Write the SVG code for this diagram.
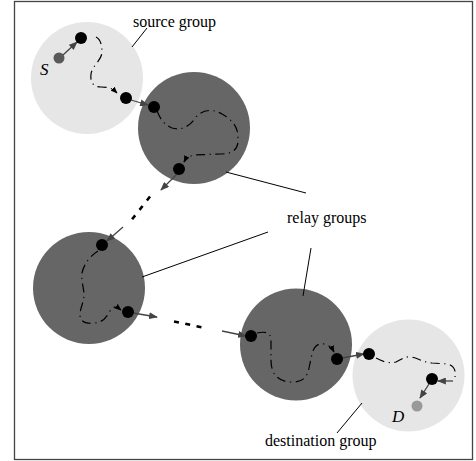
<svg xmlns="http://www.w3.org/2000/svg" width="476" height="461" viewBox="0 0 476 461">
<style>
.light{fill:#e6e6e6}
.dark{fill:#666666}
.node{fill:#000}
.path{fill:none;stroke:#000;stroke-width:1.2;stroke-dasharray:9 4.5 1.2 4.5}
.arrow{fill:none;stroke:#444;stroke-width:1.3}
.dots{fill:none;stroke:#000;stroke-width:2.6}
.leader{fill:none;stroke:#000;stroke-width:1}
.lbl{font-family:"Liberation Serif","Times New Roman",serif;font-size:16px;fill:#000}
.it{font-family:"Liberation Serif","Times New Roman",serif;font-size:17px;font-style:italic;fill:#000}
</style>
<defs>
<marker id="ah" viewBox="0 0 10 8" refX="9" refY="4" markerWidth="9" markerHeight="7" orient="auto" markerUnits="userSpaceOnUse">
<path d="M0,0 L10,4 L0,8 Z" fill="#444"/>
</marker>
<marker id="sh" viewBox="0 0 10 8" refX="9" refY="4" markerWidth="7" markerHeight="6" orient="auto" markerUnits="userSpaceOnUse">
<path d="M0,0 L10,4 L0,8 Z" fill="#000"/>
</marker>
</defs>
<rect x="14.5" y="1.5" width="458" height="458" fill="#fff" stroke="#444" stroke-width="1.3"/>

<g id="source-group"><circle class="light" cx="87" cy="78" r="56"/></g>
<g id="relay-group-1"><circle class="dark" cx="194" cy="128" r="56"/></g>
<g id="relay-group-2"><circle class="dark" cx="89" cy="288" r="56"/></g>
<g id="relay-group-3"><circle class="dark" cx="296" cy="344.5" r="56"/></g>
<g id="destination-group"><circle class="light" cx="408.5" cy="375.5" r="56"/></g>

<g id="connectors">
<path class="path" d="M96 37 C100 39 102 44 102 52 C102 60 92 66 91 74 C90 82 93 87 101 87 C108 87 112 88 117 93" marker-end="url(#sh)"/>
<path class="path" d="M157 111 C160 118 163 124 172 128 C182 131 190 126 196 117 C202 110 212 108 222 114 C232 120 238 126 238 138 C239 150 232 154 220 154 L195 155 C189 156 186 158 184 162" marker-end="url(#sh)"/>
<path class="path" d="M98 251 C90 256 84 264 82 273 C81 281 84 288 84 295 C84 302 80 308 80 315 C80 322 86 324 95 323 C103 322 106 318 110 311 C113 306 116 306 121 310" marker-end="url(#sh)"/>
<path class="path" d="M257 333 C266 331 271 333 271 340 L271 360 C271 372 276 381 290 382 C302 383 307 378 309 368 L312 354 C314 346 318 343 324 344 C329 345 332 348 334 352" marker-end="url(#sh)"/>
<path class="path" d="M376 358 C382 361 388 364 396 362 C402 359 406 356 411 357 C418 358 422 362 432 363 L448 364 C454 366 456 370 455 377"/>

<line class="arrow" x1="63" y1="55" x2="77" y2="42" marker-end="url(#ah)"/>
<line class="arrow" x1="131" y1="100" x2="148" y2="105" marker-end="url(#ah)"/>
<line class="arrow" x1="178" y1="173" x2="161" y2="190" marker-end="url(#ah)"/>
<line class="dots" x1="150" y1="196.5" x2="130" y2="222" stroke-dasharray="5 7"/>
<line class="arrow" x1="123" y1="227" x2="107" y2="241" marker-end="url(#ah)"/>
<line class="arrow" x1="133" y1="313" x2="157" y2="317" marker-end="url(#ah)"/>
<line class="dots" x1="174" y1="321.5" x2="203" y2="327.5" stroke-dasharray="5 6.5"/>
<line class="arrow" x1="222" y1="331" x2="246" y2="336" marker-end="url(#ah)"/>
<line class="arrow" x1="342" y1="358" x2="364" y2="354" marker-end="url(#ah)"/>
<line class="arrow" x1="453" y1="381" x2="438" y2="381" marker-end="url(#ah)"/>
<line class="arrow" x1="429" y1="384" x2="420" y2="398" marker-end="url(#ah)"/>

<line class="leader" x1="147" y1="28" x2="132" y2="47"/>
<line class="leader" x1="226" y1="172" x2="306" y2="193"/>
<line class="leader" x1="142" y1="277" x2="268" y2="232"/>
<line class="leader" x1="311" y1="248" x2="303" y2="296"/>
<line class="leader" x1="362" y1="403" x2="337" y2="433"/>
</g>

<g id="node-S"><circle cx="59" cy="58" r="5.5" fill="#595959"/><text class="it" x="40" y="75">S</text></g>
<g id="node-a"><circle class="node" cx="81" cy="38" r="6"/></g>
<g id="node-b"><circle class="node" cx="126" cy="98" r="6"/></g>
<g id="node-c"><circle class="node" cx="154" cy="107" r="6"/></g>
<g id="node-d"><circle class="node" cx="179" cy="169" r="6"/></g>
<g id="node-e"><circle class="node" cx="102" cy="245" r="6"/></g>
<g id="node-f"><circle class="node" cx="128" cy="312" r="6"/></g>
<g id="node-g"><circle class="node" cx="251" cy="336" r="6"/></g>
<g id="node-h"><circle class="node" cx="337" cy="359" r="6"/></g>
<g id="node-i"><circle class="node" cx="369" cy="354" r="6"/></g>
<g id="node-j"><circle class="node" cx="432" cy="379" r="6"/></g>
<g id="node-D"><circle cx="417" cy="406" r="5.5" fill="#999"/><text class="it" x="392" y="422">D</text></g>

<g id="labels">
<text class="lbl" x="133" y="26.5">source group</text>
<text class="lbl" x="287" y="223">relay groups</text>
<text class="lbl" x="265" y="446">destination group</text>
</g>
</svg>
